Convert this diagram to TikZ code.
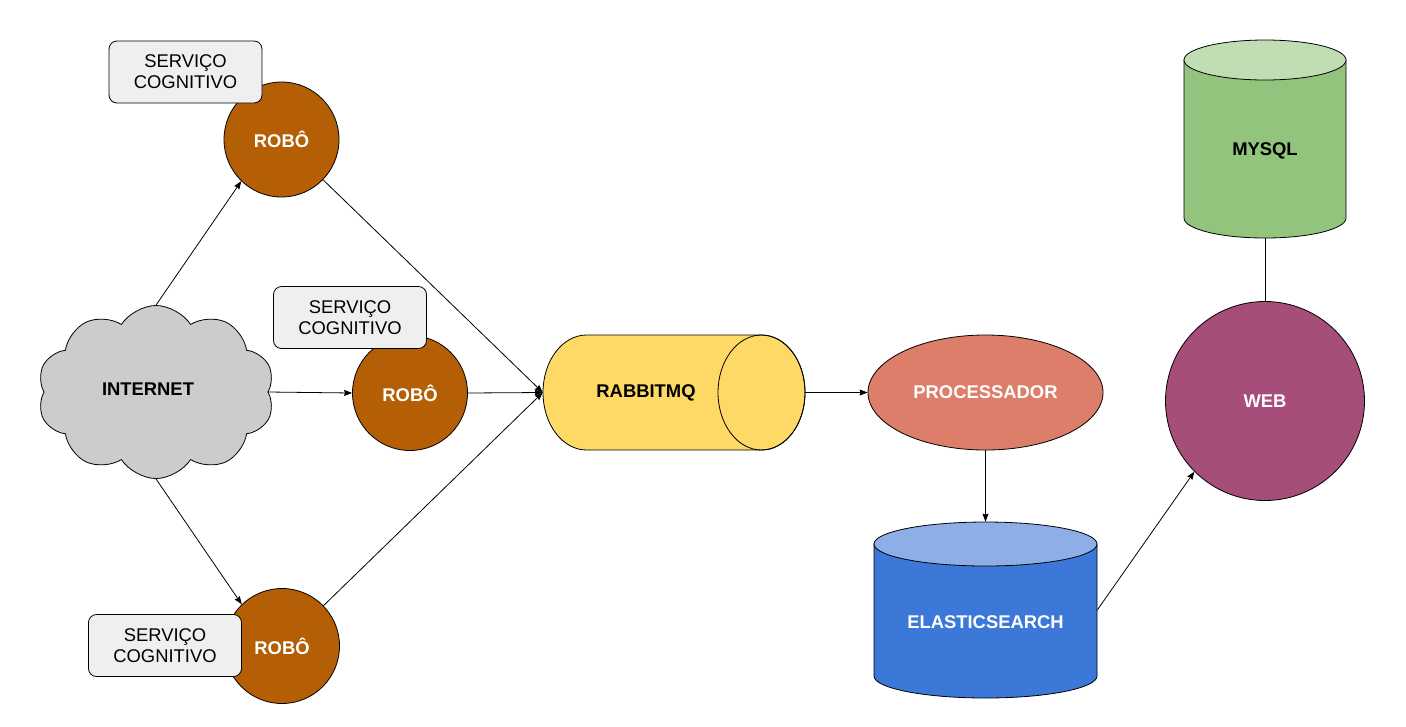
\documentclass[tikz,border=0pt]{standalone}
\usepackage{fontspec}
\setmainfont{Liberation Sans}
\usetikzlibrary{shapes.geometric,shapes.symbols,arrows.meta,backgrounds}
\definecolor{robocol}{HTML}{B45F06}
\definecolor{servcol}{HTML}{EFEFEF}
\definecolor{cloudcol}{HTML}{CCCCCC}
\definecolor{rabbitcol}{HTML}{FFD966}
\definecolor{proccol}{HTML}{DD7E6B}
\definecolor{elbody}{HTML}{3C78D8}
\definecolor{eltop}{HTML}{8DAEE6}
\definecolor{mybody}{HTML}{93C47D}
\definecolor{mytop}{HTML}{C0DDB4}
\definecolor{webcol}{HTML}{A64D79}
\tikzset{
  every node/.style={font=\fontsize{13.8}{15.75}\selectfont, inner sep=0pt},
  bold/.style={font=\fontsize{13.8}{15.75}\selectfont\bfseries},
  outl/.style={draw=black, line width=0.6pt},
  robo/.style={circle, outl, fill=robocol, minimum size=86.25pt, bold, text=white},
  servbox/.style={rectangle, rounded corners=6pt, outl, fill=servcol, minimum width=114.75pt, minimum height=46.5pt, align=center},
  holder/.style={rectangle, draw=none, fill=none},
  arr/.style={draw=black, line width=0.6pt, -{Stealth[length=6pt,width=4.5pt,inset=0.6pt]}},
  plain/.style={draw=black, line width=0.6pt},
}
\begin{document}
\begin{tikzpicture}[x=0.75pt,y=-0.75pt]
\useasboundingbox (0,0) rectangle (1406,726);
% cloud
\node[cloud, cloud puffs=10, cloud puff arc=115, aspect=1.37, outl, fill=cloudcol, minimum width=177.75pt, minimum height=129.75pt] (cloud) at (156,392) {};
\node[bold] (internet) at (148,389) {INTERNET};
% robots
\node[robo] (robo1) at (281.5,139.5) {ROBÔ};
\node[robo] (robo2) at (410,393) {ROBÔ};
\node[robo] (robo3) at (282,646) {ROBÔ};
% service boxes
\node[servbox] (serv1) at (185.5,72) {SERVIÇO\\COGNITIVO};
\node[servbox] (serv2) at (350,317.5) {SERVIÇO\\COGNITIVO};
\node[servbox] (serv3) at (165,645.5) {SERVIÇO\\COGNITIVO};
% rabbitmq (horizontal cylinder)
\path[outl, fill=rabbitcol] (761.5,335) -- (586.5,335) arc[start angle=-90, end angle=-270, x radius=43.5, y radius=57.5] -- (761.5,450) arc[start angle=90, end angle=-90, x radius=43.5, y radius=57.5] -- cycle;
\draw[outl] (761.5,392.5) ellipse [x radius=43.5, y radius=57.5];
\node[holder, minimum width=196.5pt, minimum height=86.25pt] (rabbit) at (674,392.5) {};
\node[bold] (rabbittxt) at (646,393) {RABBITMQ};
% processador
\node[ellipse, outl, fill=proccol, minimum width=176.25pt, minimum height=86.25pt, bold, text=white] (proc) at (985.5,392.5) {PROCESSADOR};
% elasticsearch (vertical cylinder)
\path[outl, fill=elbody] (874,544) -- (874,676) arc[start angle=180, end angle=0, x radius=111.5, y radius=22] -- (1097,544) -- cycle;
\path[outl, fill=eltop] (985.5,544) ellipse [x radius=111.5, y radius=22];
\node[holder, minimum width=167.25pt, minimum height=132pt] (elastic) at (985.5,610) {};
\node[bold, text=white] (eltxt) at (985.5,622) {ELASTICSEARCH};
% web
\node[circle, outl, fill=webcol, minimum size=149.25pt, bold, text=white] (web) at (1265,401) {WEB};
% mysql (vertical cylinder)
\path[outl, fill=mybody] (1184,60) -- (1184,218) arc[start angle=180, end angle=0, x radius=81, y radius=20] -- (1346,60) -- cycle;
\path[outl, fill=mytop] (1265,60) ellipse [x radius=81, y radius=20];
\node[holder, minimum width=121.5pt, minimum height=148.5pt] (mysql) at (1265,139) {};
\node[bold] (mytxt) at (1265,151) {MYSQL};
% connectors
\begin{pgfonlayer}{background}
\draw[arr] (cloud.north) -- (robo1.226);
\draw[arr] (cloud.east) -- (robo2.west);
\draw[arr] (cloud.south) -- (robo3.134);
\draw[arr] (robo1) -- (rabbit.west);
\draw[arr] (robo2.east) -- (rabbit.west);
\draw[arr] (robo3) -- (rabbit.west);
\draw[arr] (rabbit.east) -- (proc.west);
\draw[arr] (proc.south) -- (elastic.north);
\draw[arr] (elastic.east) -- (web.225);
\draw[plain] (web.north) -- (mysql.south);
\end{pgfonlayer}
\end{tikzpicture}
\end{document}
